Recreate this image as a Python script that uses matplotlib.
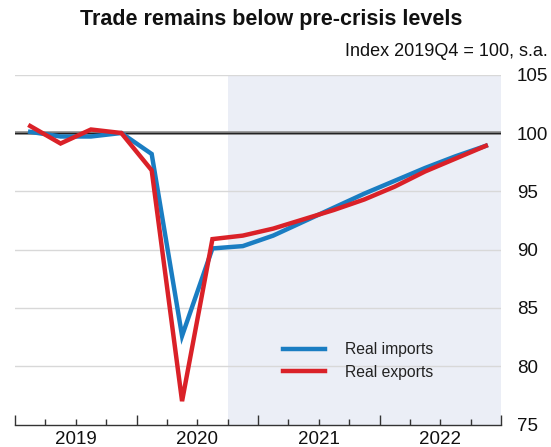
import matplotlib
matplotlib.use("Agg")
import matplotlib.pyplot as plt
from matplotlib.ticker import FixedLocator, NullFormatter

plt.rcParams['font.family'] = ['Liberation Sans', 'DejaVu Sans']

quarters = ["2019Q1", "2019Q2", "2019Q3", "2019Q4",
            "2020Q1", "2020Q2", "2020Q3", "2020Q4",
            "2021Q1", "2021Q2", "2021Q3", "2021Q4",
            "2022Q1", "2022Q2", "2022Q3", "2022Q4"]
real_imports = [100.1, 99.7, 99.7, 100.0, 98.2, 82.6, 90.1, 90.3,
                91.2, 92.4, 93.6, 94.8, 95.9, 97.0, 98.0, 98.9]
real_exports = [100.6, 99.1, 100.3, 100.0, 96.8, 77.0, 90.9, 91.2,
                91.8, 92.6, 93.4, 94.3, 95.4, 96.7, 97.8, 98.9]
years = ["2019", "2020", "2021", "2022"]
y_ticks = [75, 80, 85, 90, 95, 100, 105]
forecast_start = "2020Q4"

def qpos(q):
    return int(q[:4]) + (int(q[5]) - 0.5) / 4.0

x = [qpos(q) for q in quarters]

W, H = 551, 447
fig = plt.figure(figsize=(W / 100, H / 100), dpi=100)
ax = fig.add_axes([15 / W, (H - 424.5) / H, (501 - 15) / W, (424.5 - 74.7) / H])

x0 = int(years[0])
x1 = int(years[-1]) + 1
ax.set_xlim(x0, x1)
ax.set_ylim(75, 105)

fs = qpos(forecast_start) - 0.125
ax.axvspan(fs, x1, color='#EBEEF6', zorder=0, lw=0)

for v in y_ticks[1:]:
    if v == 100:
        continue
    ax.axhline(v, color='#D8D8D8', lw=1.0, zorder=1)
ax.axhline(100, color='#8a8a8a', lw=2.6, zorder=2)
ax.axhline(100, color='#222222', lw=0.9, zorder=2)

ax.plot(x, real_imports, color='#1A7DC2', lw=3.2, label='Real imports',
        zorder=3, solid_joinstyle='miter')
ax.plot(x, real_exports, color='#DA2128', lw=3.2, label='Real exports',
        zorder=4, solid_joinstyle='miter')

for s in ['top', 'left', 'right']:
    ax.spines[s].set_visible(False)
ax.spines['bottom'].set_color('#333333')
ax.spines['bottom'].set_linewidth(1.0)

# x ticks: quarter boundaries, year boundaries longer; labels at year centres
quarter_bounds = [x0 + i / 4 for i in range((x1 - x0) * 4 + 1) if i % 4 != 0]
year_bounds = [x0 + i for i in range(x1 - x0 + 1)]
ax.xaxis.set_major_locator(FixedLocator(year_bounds))
ax.xaxis.set_major_formatter(NullFormatter())
ax.xaxis.set_minor_locator(FixedLocator(quarter_bounds))
ax.tick_params(axis='x', which='major', direction='in', length=7, width=1, color='#333333')
ax.tick_params(axis='x', which='minor', direction='in', length=4, width=1, color='#333333')
for yl in years:
    ax.annotate(yl, xy=(int(yl) + 0.5, 0), xycoords=ax.get_xaxis_transform(),
                xytext=(0, -10.8), textcoords='offset points',
                ha='center', va='center', fontsize=13.5, color='#111111')

ax.yaxis.tick_right()
ax.set_yticks(y_ticks)
ax.set_yticklabels([str(v) for v in y_ticks])
ax.tick_params(axis='y', length=0, pad=11.5, labelsize=13.5, labelcolor='#111111')

leg = ax.legend(loc='center left', bbox_to_anchor=(283 / W, 1 - 361 / H),
                bbox_transform=fig.transFigure, frameon=False,
                fontsize=11.3, handlelength=2.7, handletextpad=1.25,
                labelspacing=0.5, borderpad=0, borderaxespad=0)
for t in leg.get_texts():
    t.set_color('#222222')

fig.text(271 / W, 1 - 19 / H, 'Trade remains below pre-crisis levels',
         ha='center', va='center', fontsize=15.5, fontweight='bold', color='#111111')
fig.text(548 / W, 1 - 52 / H, 'Index 2019Q4 = 100, s.a.',
         ha='right', va='center', fontsize=13, color='#111111')

fig.savefig('out.png', dpi=100)
